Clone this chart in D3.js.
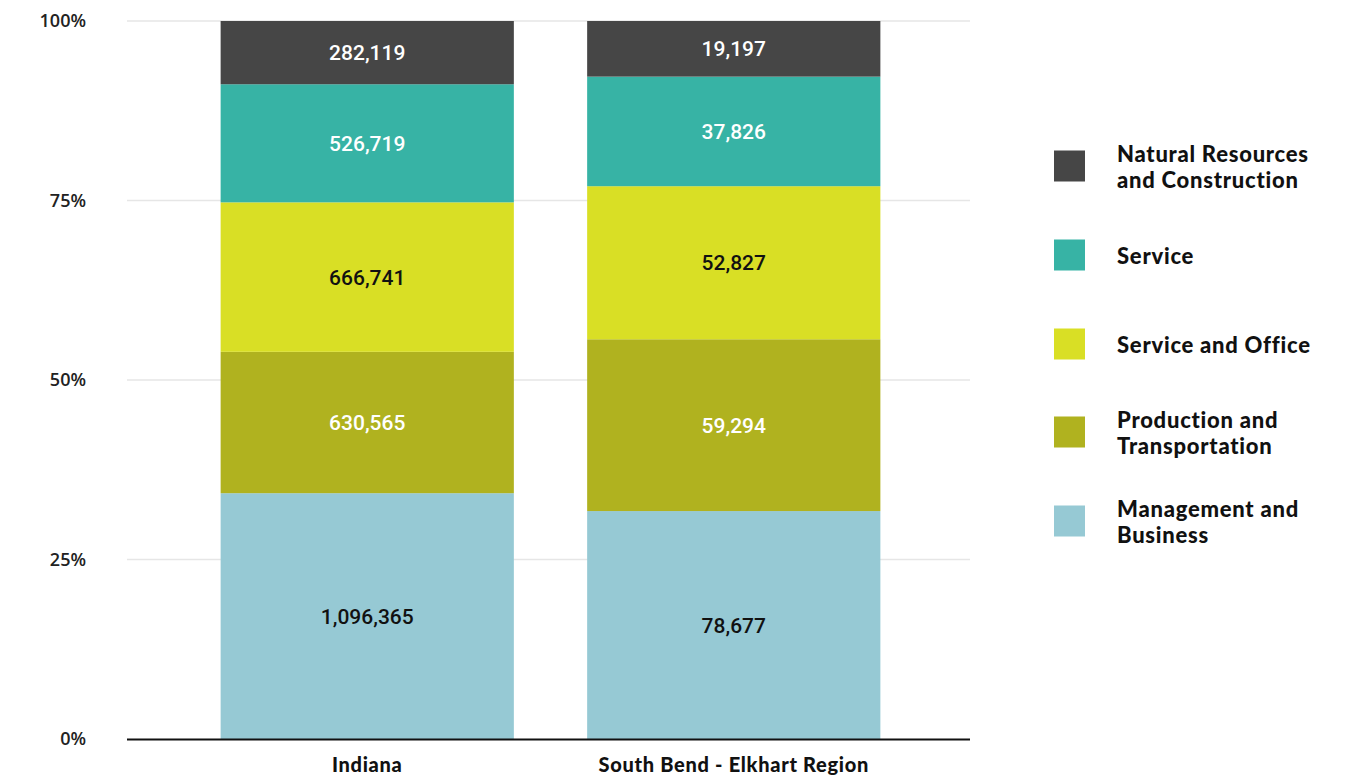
<!DOCTYPE html>
<html><head><meta charset="utf-8">
<script src="https://cdn.jsdelivr.net/npm/d3@7"></script>
<style>body{margin:0;background:#fff}svg{display:block}</style>
</head><body>
<svg id="chart" width="1358" height="777"></svg>
<script>
const categories = ["Indiana", "South Bend - Elkhart Region"];
const seriesNames = ["Management and Business", "Production and Transportation", "Service and Office", "Service", "Natural Resources and Construction"];
const managementBusiness = [1096365, 78677];
const productionTransportation = [630565, 59294];
const serviceOffice = [666741, 52827];
const service = [526719, 37826];
const naturalResources = [282119, 19197];
const seriesColors = ["#96c9d4", "#b0b21f", "#d9df25", "#37b3a5", "#464646"];
const labelColors = ["#111", "#fff", "#111", "#fff", "#fff"];
const yTicks = [0, 0.25, 0.5, 0.75, 1];
const legendLabels = [["Natural Resources","and Construction"],["Service"],["Service and Office"],["Production and","Transportation"],["Management and","Business"]];

(function(){
const seriesValues = [managementBusiness, productionTransportation, serviceOffice, service, naturalResources];
const rows = categories.map((c, i) => {
  const r = {cat: c};
  seriesNames.forEach((s, j) => r[s] = seriesValues[j][i]);
  return r;
});
const stack = d3.stack().keys(seriesNames).offset(d3.stackOffsetExpand);
const stacked = stack(rows);

const svg = d3.select("#chart");
const pLeft = 127, pRight = 970, pTop = 21, pBottom = 739;
const x = d3.scaleBand().domain(categories).range([pLeft + 2, pRight + 2]).paddingInner(0.2).paddingOuter(0.25);
const y = d3.scaleLinear().domain([0, 1]).range([pBottom, pTop]);

svg.append("g").selectAll("line").data(yTicks.filter(t => t > 0)).join("line")
  .attr("x1", pLeft).attr("x2", pRight)
  .attr("y1", d => y(d)).attr("y2", d => y(d))
  .attr("stroke", "#e6e6e6").attr("stroke-width", 1.5);

svg.append("g").selectAll("text").data(yTicks).join("text")
  .attr("x", 86).attr("y", d => y(d)).attr("dy", "0.35em")
  .attr("text-anchor", "end")
  .attr("font-family", "'Open Sans', sans-serif").attr("font-weight", 600)
  .attr("font-size", 18).attr("fill", "#222")
  .text(d => d3.format(".0%")(d));

const layers = svg.append("g").selectAll("g").data(stacked).join("g")
  .attr("fill", (d, i) => seriesColors[i]);
layers.selectAll("rect").data(d => d).join("rect")
  .attr("x", d => x(d.data.cat)).attr("width", x.bandwidth())
  .attr("y", d => y(d[1])).attr("height", d => y(d[0]) - y(d[1]));

stacked.forEach((layer, i) => {
  svg.append("g").selectAll("text").data(layer).join("text")
    .attr("x", d => x(d.data.cat) + x.bandwidth() / 2)
    .attr("y", d => (y(d[0]) + y(d[1])) / 2).attr("dy", "0.36em")
    .attr("text-anchor", "middle")
    .attr("font-family", "Roboto, sans-serif").attr("font-weight", 500)
    .attr("font-size", 21).attr("fill", labelColors[i])
    .text(d => d3.format(",")(d.data[layer.key]));
});

svg.append("line").attr("x1", pLeft).attr("x2", pRight)
  .attr("y1", pBottom + 0.5).attr("y2", pBottom + 0.5)
  .attr("stroke", "#111").attr("stroke-width", 2);

svg.append("g").selectAll("text").data(categories).join("text")
  .attr("x", d => x(d) + x.bandwidth() / 2).attr("y", 772)
  .attr("text-anchor", "middle")
  .attr("font-family", "Lato, sans-serif").attr("font-weight", 900)
  .attr("font-size", 20).attr("letter-spacing", 0.7).attr("fill", "#111")
  .text(d => d);

const legendY = [167, 256, 345, 433, 522];
const legendColors = seriesColors.slice().reverse();
const lg = svg.append("g").selectAll("g").data(legendLabels).join("g")
  .attr("transform", (d, i) => `translate(1054,${legendY[i]})`);
lg.append("rect").attr("x", 0).attr("y", -16.5).attr("width", 31).attr("height", 31)
  .attr("fill", (d, i) => legendColors[i]);
lg.append("text")
  .attr("font-family", "Lato, sans-serif").attr("font-weight", 900)
  .attr("font-size", 22).attr("letter-spacing", 0.75).attr("fill", "#111")
  .selectAll("tspan").data(d => d.map((t, k) => ({t, k, n: d.length}))).join("tspan")
  .attr("x", 63)
  .attr("y", d => (d.k - (d.n - 1) / 2) * 26)
  .attr("dy", "0.35em")
  .text(d => d.t);
})();
</script>
</body></html>
